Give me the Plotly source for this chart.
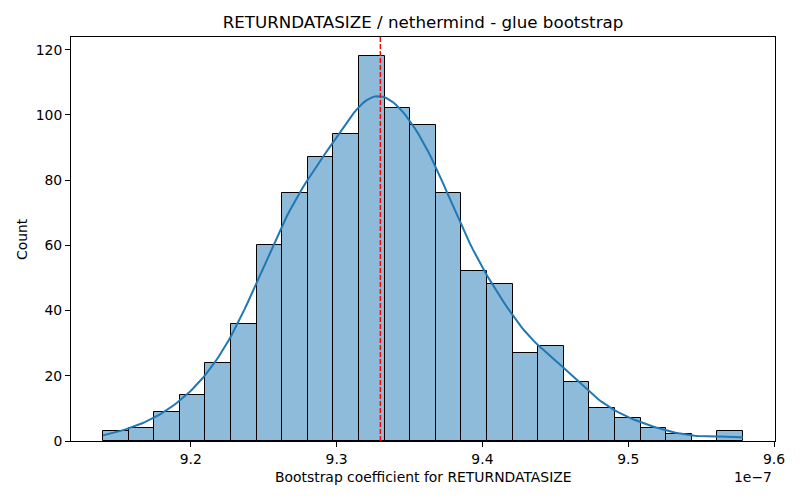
import numpy as np
import plotly.graph_objects as go

# histogram (25 bins, 1000 bootstrap samples)
bin_start = 9.1398e-7
bin_width = 0.017556e-7
counts = [3, 4, 9, 14, 24, 36, 60, 76, 87, 94, 118, 102, 97, 76, 52,
          48, 27, 29, 18, 10, 7, 4, 2, 0, 3]
mean_coef = 9.330e-7

x_ticks = [9.2e-7, 9.3e-7, 9.4e-7, 9.5e-7, 9.6e-7]
x_tick_labels = ['9.2', '9.3', '9.4', '9.5', '9.6']
y_ticks = [0, 20, 40, 60, 80, 100, 120]

counts = np.array(counts, dtype=float)
edges = bin_start + bin_width * np.arange(len(counts) + 1)
centers = (edges[:-1] + edges[1:]) / 2

# kde estimated from the binned data (scott bandwidth, like seaborn)
n = counts.sum()
mu = np.sum(counts * centers) / n
sd = np.sqrt(np.sum(counts * (centers - mu) ** 2) / n)
bw = sd * n ** (-1 / 5)
grid = np.linspace(edges[0], edges[-1], 200)
dens = np.sum(counts[None, :] * np.exp(-0.5 * ((grid[:, None] - centers[None, :]) / bw) ** 2),
              axis=1) / (n * bw * np.sqrt(2 * np.pi))
kde_counts = dens * n * bin_width

fig = go.Figure()
fig.add_trace(go.Bar(x=centers, y=counts, width=bin_width,
                     marker=dict(color='#8fbbda', line=dict(color='black', width=1)),
                     showlegend=False))
fig.add_trace(go.Scatter(x=grid, y=kde_counts, mode='lines',
                         line=dict(color='#1f77b4', width=2), showlegend=False))
fig.add_shape(type='line', x0=mean_coef, x1=mean_coef, y0=0, y1=1, yref='paper',
              line=dict(color='#ff0000', width=1.4, dash='5px,2px'))

# the page body adds an 8px offset, so the figure is 8px smaller
W, H = 792, 492
span = edges[-1] - edges[0]
font = 'DejaVu Sans, sans-serif'
fs = 13.9
fig.update_layout(
    width=W, height=H,
    margin=dict(l=63, r=25, t=29, b=59),
    paper_bgcolor='white', plot_bgcolor='white',
    bargap=0,
    font=dict(family=font, size=fs, color='black'),
    title=dict(text='RETURNDATASIZE / nethermind - glue bootstrap', x=(63 + 767) / 2 / W,
               xanchor='center', y=1 - 14 / H, yanchor='middle', font=dict(size=16.7)),
)
fig.update_xaxes(range=[edges[0] - 0.05 * span, edges[-1] + 0.05 * span],
                 tickvals=x_ticks, ticktext=x_tick_labels, tickfont=dict(size=fs),
                 showline=True, linecolor='black', linewidth=1, mirror=True, automargin=False,
                 ticks='outside', ticklen=5, tickcolor='black', showgrid=False, zeroline=False)
fig.update_yaxes(range=[0, counts.max() * 1.05], tickvals=y_ticks, tickfont=dict(size=fs),
                 showline=True, linecolor='black', linewidth=1, mirror=True, automargin=False,
                 ticks='outside', ticklen=5, tickcolor='black', showgrid=False, zeroline=False)

fig.add_annotation(text='Bootstrap coefficient for RETURNDATASIZE', x=0.5, xref='paper',
                   xanchor='center', y=0, yref='paper', yshift=-36, yanchor='middle',
                   showarrow=False, font=dict(size=fs))
fig.add_annotation(text='Count', x=0, xref='paper', xshift=-49, xanchor='center',
                   y=0.5, yref='paper', yanchor='middle', textangle=-90,
                   showarrow=False, font=dict(size=fs))
fig.add_annotation(text='1e\u22127', x=1, xref='paper', xanchor='right', xshift=-1,
                   y=0, yref='paper', yshift=-36, yanchor='middle',
                   showarrow=False, font=dict(size=fs))

fig.write_html("out.html")
